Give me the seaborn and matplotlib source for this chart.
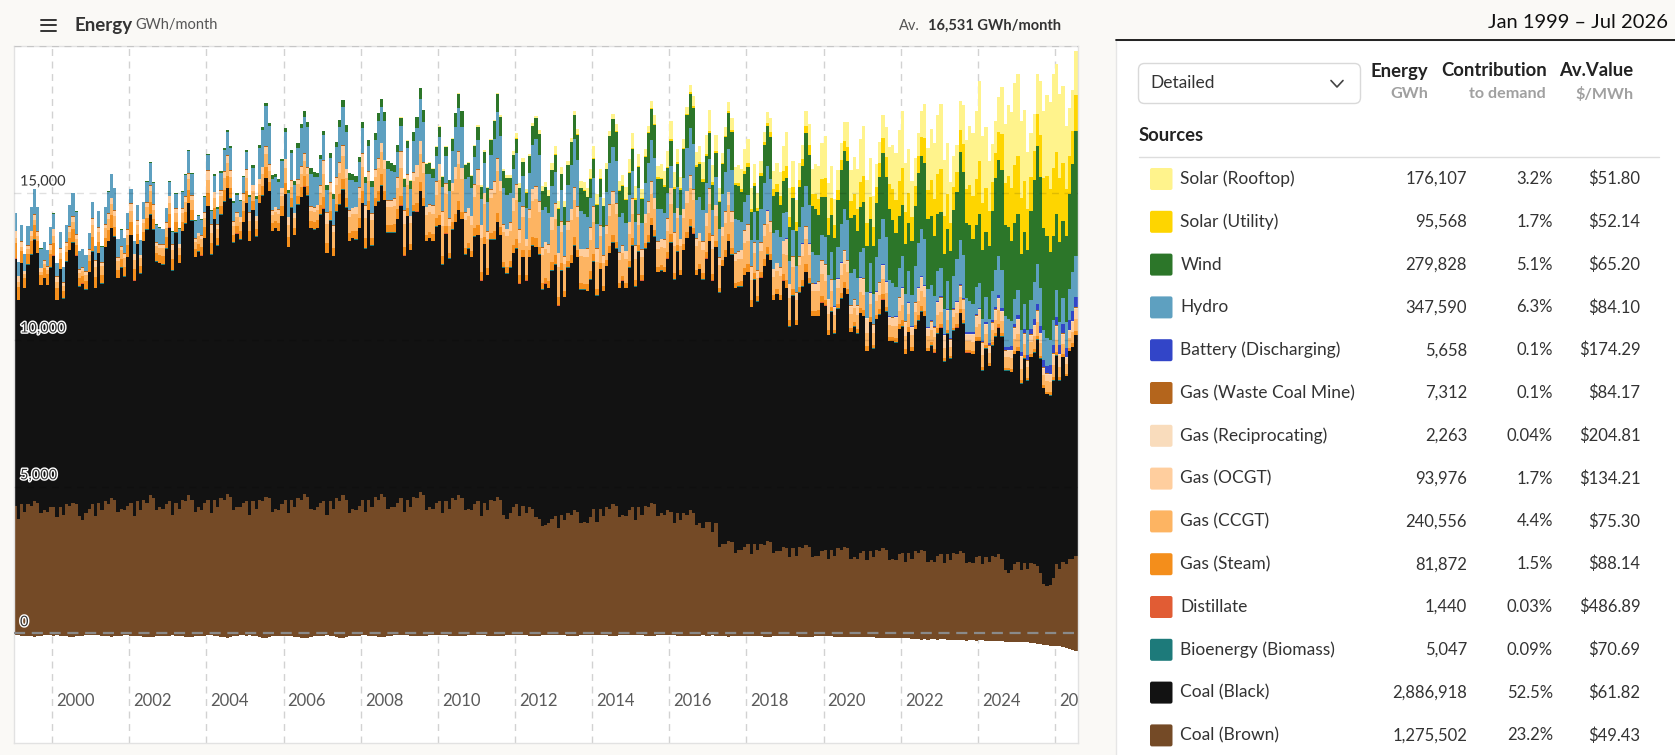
import matplotlib
matplotlib.use("Agg")
import matplotlib.pyplot as plt
import matplotlib.patheffects as pe
import matplotlib.transforms as mtransforms
import numpy as np
import pandas as pd
import seaborn as sns
from matplotlib.lines import Line2D
from matplotlib.patches import FancyBboxPatch, Rectangle

# --- Monthly energy, GWh (Jan 1999 - Jul 2026) ---

coal_brown = [
    4350, 3900, 4400, 4150, 4400, 4350, 4500, 4450, 4100, 4200, 4150, 4300,  # 1999
    4300, 3950, 4300, 4050, 4400, 4350, 4450, 4400, 4000, 3850, 4100, 4250,  # 2000
    4400, 4000, 4450, 4200, 4500, 4400, 4600, 4550, 4150, 4250, 4200, 4350,  # 2001
    4450, 4000, 4500, 4200, 4550, 4450, 4700, 4600, 4200, 4300, 4250, 4400,  # 2002
    4500, 4050, 4450, 4250, 4550, 4500, 4700, 4550, 4150, 4300, 4200, 4450,  # 2003
    4550, 4100, 4550, 4300, 4600, 4550, 4750, 4650, 4200, 4300, 4300, 4450,  # 2004
    4500, 4050, 4500, 4250, 4550, 4500, 4650, 4600, 4150, 4250, 4200, 4400,  # 2005
    4550, 4100, 4550, 4300, 4600, 4550, 4750, 4650, 4250, 4200, 4300, 4450,  # 2006
    4500, 4050, 4500, 4250, 4600, 4500, 4700, 4550, 4100, 4250, 4200, 4350,  # 2007
    4550, 4150, 4550, 4300, 4650, 4550, 4750, 4650, 4250, 4300, 4300, 4450,  # 2008
    4600, 4150, 4550, 4300, 4650, 4600, 4800, 4700, 4200, 4300, 4250, 4450,  # 2009
    4500, 4100, 4500, 4250, 4600, 4550, 4700, 4600, 4200, 4250, 4200, 4400,  # 2010
    4500, 4000, 4450, 4200, 4550, 4500, 4650, 4550, 4050, 3900, 4100, 4300,  # 2011
    4400, 4000, 4350, 4100, 4300, 4250, 3950, 3900, 3650, 3700, 3750, 3900,  # 2012
    4000, 3600, 4050, 3850, 4100, 4050, 4200, 4150, 3750, 3800, 3750, 3950,  # 2013
    4250, 3800, 4250, 4000, 4300, 4250, 4400, 4350, 3950, 4050, 4000, 4200,  # 2014
    4300, 3850, 4300, 4050, 4350, 4300, 4450, 4400, 4000, 4100, 4050, 4200,  # 2015
    4150, 3750, 4100, 3850, 4100, 4050, 4200, 4100, 3700, 3750, 3600, 3800,  # 2016
    3800, 3450, 3750, 2950, 3050, 3050, 3150, 3100, 2750, 2850, 2850, 2950,  # 2017
    3050, 2700, 3050, 2850, 3050, 3000, 3150, 3100, 2750, 2800, 2800, 2950,  # 2018
    2900, 2600, 2900, 2650, 2950, 2900, 3000, 2950, 2600, 2650, 2650, 2800,  # 2019
    2850, 2550, 2850, 2650, 2900, 2850, 2950, 2900, 2550, 2600, 2550, 2750,  # 2020
    2800, 2500, 2800, 2600, 2850, 2800, 2900, 2850, 2500, 2550, 2500, 2700,  # 2021
    2750, 2450, 2750, 2550, 2800, 2750, 2850, 2800, 2450, 2500, 2450, 2650,  # 2022
    2700, 2400, 2700, 2500, 2750, 2700, 2800, 2750, 2400, 2450, 2400, 2600,  # 2023
    2650, 2350, 2600, 2450, 2650, 2600, 2700, 2550, 2150, 2050, 2150, 2350,  # 2024
    2450, 2150, 2400, 2200, 2400, 2350, 2300, 2050, 1700, 1600, 1650, 1900,  # 2025
    2350, 2200, 2450, 2350, 2550, 2550, 2650,                                # 2026
]

coal_black = [
    8400, 7450, 8200, 7600, 8150, 8550, 8900, 8500, 7750, 7900, 7700, 8150,
    8550, 7400, 8100, 7350, 8250, 8700, 8850, 8450, 7800, 8050, 7600, 8050,
    8600, 7750, 8500, 7700, 8650, 8950, 9200, 8950, 7950, 8200, 7950, 8450,
    9100, 8000, 8750, 8050, 8800, 9300, 9550, 9150, 8450, 8300, 8300, 8700,
    9300, 8300, 9200, 8350, 9150, 9450, 9950, 9500, 8650, 8700, 8650, 9000,
    10000, 8800, 9550, 8900, 9650, 10150, 10400, 10150, 9100, 9300, 9100, 9550,
    10150, 9300, 9900, 9250, 10100, 10400, 10850, 10450, 9550, 9550, 9500, 9800,
    10400, 9050, 9950, 9250, 10000, 10300, 10450, 10250, 9550, 9550, 9500, 9800,
    9950, 8900, 9550, 8600, 9750, 10100, 10400, 9950, 9250, 9200, 9200, 9450,
    10100, 8950, 9850, 8900, 9900, 10150, 10500, 10100, 9400, 9350, 9350, 9650,
    9950, 8700, 9650, 8750, 9700, 9750, 10250, 9850, 9150, 9150, 9100, 9400,
    9400, 8450, 9100, 8500, 9150, 9450, 9700, 9500, 8700, 8850, 8600, 9100,
    9050, 8000, 8800, 8000, 8850, 8900, 9350, 9000, 8400, 8350, 8350, 8650,
    8700, 7900, 8450, 7900, 8500, 8950, 9200, 9000, 8050, 8200, 8000, 8450,
    8550, 7550, 8300, 7600, 8350, 8550, 9000, 8650, 7950, 7900, 7900, 8100,
    8400, 7700, 8150, 7650, 8200, 8700, 8900, 8750, 7800, 7950, 7750, 8250,
    8900, 7950, 8700, 7950, 8750, 9000, 9450, 9100, 8300, 8250, 8250, 8550,
    9150, 8300, 8900, 8350, 8950, 9400, 9650, 9500, 8500, 8650, 8450, 8950,
    9550, 8550, 9400, 8650, 9450, 9750, 10200, 9800, 9000, 8950, 8950, 9250,
    9250, 8400, 9000, 8450, 9050, 9500, 9750, 9600, 8600, 8750, 8550, 9050,
    8850, 7850, 8600, 7850, 8650, 8900, 9300, 8950, 8200, 8150, 8150, 8450,
    8300, 7600, 8100, 7550, 8150, 8550, 8800, 8650, 7700, 7850, 7650, 8150,
    8000, 7100, 7800, 7100, 7850, 8050, 8450, 8100, 7450, 7400, 7400, 7650,
    7700, 7050, 7500, 7050, 7550, 7900, 8100, 8000, 7150, 7300, 7100, 7550,
    7700, 6850, 7500, 6850, 7550, 7700, 8100, 7800, 7150, 7100, 7100, 7350,
    7300, 6600, 7100, 6650, 7150, 7500, 7700, 7550, 6800, 6900, 6750, 7150,
    7150, 6350, 6950, 6400, 7000, 7200, 7700, 7300, 6650, 6550, 6450, 6700,
    7100, 6400, 6950, 6400, 7050, 7200, 7500,
]

biomass = [
    15, 14, 16, 15, 16, 15, 16, 16, 15, 15, 14, 15,
    15, 13, 15, 15, 16, 16, 17, 16, 15, 14, 14, 15,
    14, 14, 16, 15, 15, 16, 16, 15, 15, 15, 14, 14,
    15, 13, 15, 16, 16, 15, 17, 16, 14, 15, 15, 15,
    16, 14, 15, 15, 16, 16, 16, 16, 15, 15, 14, 15,
    15, 14, 16, 15, 16, 15, 16, 17, 15, 14, 14, 15,
    15, 13, 16, 15, 15, 16, 17, 16, 15, 15, 14, 14,
    14, 14, 15, 15, 16, 16, 16, 15, 15, 15, 15, 15,
    15, 14, 16, 14, 16, 15, 17, 16, 15, 14, 14, 15,
    16, 14, 15, 15, 16, 16, 16, 16, 14, 15, 14, 15,
    15, 13, 16, 15, 16, 15, 16, 16, 15, 15, 15, 14,
    15, 14, 15, 16, 15, 16, 17, 16, 15, 14, 14, 15,
    14, 14, 16, 15, 16, 15, 16, 15, 15, 15, 14, 15,
    15, 13, 15, 15, 16, 16, 16, 16, 15, 14, 15, 15,
    16, 14, 16, 15, 15, 16, 17, 16, 14, 15, 14, 15,
    15, 14, 15, 15, 16, 15, 16, 16, 15, 15, 14, 14,
    15, 13, 16, 16, 16, 16, 16, 15, 15, 14, 15, 15,
    14, 14, 15, 15, 16, 15, 17, 16, 15, 15, 14, 15,
    15, 14, 16, 15, 15, 16, 16, 16, 15, 15, 14, 15,
    16, 13, 15, 15, 16, 16, 16, 16, 14, 14, 15, 15,
    15, 14, 16, 14, 16, 15, 17, 15, 15, 15, 14, 15,
    15, 14, 15, 15, 16, 16, 16, 16, 15, 15, 14, 14,
    14, 13, 16, 15, 15, 15, 16, 16, 15, 14, 15, 15,
    15, 14, 15, 16, 16, 16, 17, 16, 15, 15, 14, 15,
    15, 14, 16, 15, 16, 15, 16, 15, 14, 15, 14, 15,
    16, 13, 15, 15, 15, 16, 16, 16, 15, 15, 15, 15,
    15, 14, 16, 15, 16, 16, 17, 16, 15, 14, 14, 15,
    15, 14, 16, 15, 16, 16, 16,
]

distillate = [
    6, 5, 4, 3, 3, 4, 5, 4, 3, 3, 3, 5,
    5, 5, 4, 3, 3, 4, 5, 4, 3, 3, 4, 5,
    6, 4, 4, 3, 3, 4, 4, 4, 3, 3, 3, 5,
    5, 5, 4, 3, 4, 4, 5, 4, 3, 3, 3, 4,
    6, 5, 4, 3, 3, 4, 5, 4, 3, 3, 4, 5,
    5, 5, 4, 3, 3, 4, 5, 3, 3, 3, 3, 5,
    6, 5, 4, 3, 3, 4, 4, 4, 3, 3, 3, 5,
    5, 4, 4, 3, 3, 4, 5, 4, 3, 3, 4, 5,
    6, 5, 4, 3, 4, 4, 5, 4, 3, 3, 3, 5,
    5, 5, 4, 3, 3, 4, 5, 4, 3, 3, 3, 4,
    6, 5, 4, 3, 3, 4, 5, 4, 3, 3, 4, 5,
    5, 5, 4, 3, 3, 4, 4, 4, 3, 3, 3, 5,
    6, 4, 4, 3, 3, 4, 5, 4, 3, 3, 3, 5,
    5, 5, 4, 3, 4, 4, 5, 4, 3, 3, 4, 5,
    6, 5, 4, 3, 3, 4, 5, 3, 3, 3, 3, 5,
    5, 5, 4, 3, 3, 4, 5, 4, 3, 3, 3, 4,
    7, 6, 4, 3, 3, 5, 5, 4, 3, 3, 4, 6,
    6, 5, 4, 3, 3, 4, 5, 4, 3, 3, 3, 5,
    5, 5, 4, 3, 3, 4, 5, 4, 3, 3, 3, 5,
    6, 5, 4, 3, 4, 4, 5, 4, 3, 3, 4, 5,
    5, 4, 4, 3, 3, 4, 5, 4, 3, 3, 3, 5,
    6, 5, 4, 3, 3, 4, 4, 4, 3, 3, 3, 5,
    5, 5, 4, 3, 3, 5, 6, 4, 3, 3, 3, 4,
    6, 5, 4, 3, 3, 4, 5, 4, 3, 3, 4, 5,
    5, 5, 4, 3, 3, 4, 5, 4, 3, 3, 3, 5,
    6, 5, 4, 3, 3, 4, 5, 4, 3, 3, 3, 5,
    5, 5, 4, 3, 3, 4, 5, 4, 3, 3, 4, 5,
    6, 5, 4, 3, 3, 4, 5,
]

gas_steam = [
    520, 440, 400, 320, 360, 440, 480, 400, 320, 320, 360, 440,
    440, 390, 320, 240, 310, 390, 440, 350, 270, 250, 290, 370,
    470, 370, 350, 270, 290, 370, 410, 330, 250, 270, 310, 390,
    450, 390, 330, 250, 310, 390, 430, 340, 270, 260, 290, 370,
    460, 370, 340, 270, 300, 380, 410, 350, 260, 250, 300, 380,
    440, 380, 350, 260, 290, 370, 420, 340, 250, 260, 290, 360,
    400, 330, 300, 240, 270, 330, 360, 300, 240, 240, 270, 330,
    380, 340, 290, 250, 280, 320, 370, 310, 230, 250, 260, 320,
    400, 320, 310, 240, 260, 340, 350, 290, 250, 230, 280, 340,
    390, 330, 300, 230, 270, 330, 360, 300, 240, 240, 270, 330,
    325, 275, 250, 200, 225, 275, 300, 250, 200, 200, 225, 275,
    330, 270, 260, 190, 230, 270, 310, 240, 210, 190, 220, 280,
    320, 280, 240, 210, 220, 280, 290, 260, 190, 210, 230, 270,
    325, 275, 250, 200, 225, 275, 300, 250, 200, 200, 225, 275,
    310, 270, 250, 190, 220, 270, 290, 240, 200, 190, 220, 260,
    260, 220, 200, 160, 180, 220, 240, 200, 160, 160, 180, 220,
    250, 230, 190, 170, 170, 230, 230, 210, 150, 170, 170, 230,
    270, 210, 210, 150, 190, 210, 250, 190, 170, 150, 190, 210,
    260, 220, 200, 160, 180, 220, 240, 200, 160, 160, 180, 220,
    250, 220, 190, 160, 190, 230, 230, 200, 150, 160, 170, 210,
    260, 210, 200, 150, 170, 220, 250, 190, 160, 150, 180, 220,
    195, 165, 150, 120, 135, 165, 180, 150, 120, 120, 135, 165,
    190, 170, 140, 120, 140, 160, 190, 140, 120, 110, 140, 160,
    200, 160, 150, 130, 130, 170, 180, 160, 110, 120, 130, 170,
    130, 110, 100, 80, 90, 110, 120, 100, 80, 80, 90, 110,
    120, 110, 90, 80, 100, 110, 130, 100, 70, 80, 90, 100,
    130, 100, 100, 80, 90, 120, 120, 90, 80, 70, 90, 110,
    120, 110, 100, 80, 90, 110, 120,
]

gas_ccgt = [
    170, 150, 150, 135, 150, 165, 175, 160, 135, 135, 135, 150,
    230, 200, 200, 180, 200, 220, 230, 210, 180, 180, 180, 200,
    400, 350, 350, 315, 350, 385, 400, 370, 315, 315, 315, 350,
    370, 300, 300, 255, 300, 345, 370, 320, 255, 255, 255, 300,
    375, 300, 300, 250, 300, 350, 375, 325, 250, 250, 250, 300,
    430, 350, 350, 295, 350, 405, 430, 380, 295, 295, 295, 350,
    420, 360, 340, 300, 360, 400, 440, 370, 290, 300, 290, 360,
    490, 400, 400, 340, 400, 460, 490, 430, 340, 340, 340, 400,
    770, 650, 650, 570, 650, 730, 770, 690, 570, 570, 570, 650,
    830, 700, 700, 615, 700, 785, 750, 740, 615, 615, 615, 700,
    965, 800, 800, 690, 800, 910, 965, 855, 690, 690, 690, 800,
    1200, 1050, 1080, 915, 1050, 1185, 1250, 1120, 950, 915, 880, 1050,
    1370, 1150, 1120, 1005, 1180, 1295, 1420, 1220, 1005, 1040, 1005, 1150,
    1310, 1100, 1100, 960, 1100, 1240, 1310, 1170, 960, 960, 960, 1100,
    1240, 1050, 1050, 925, 1050, 1175, 1240, 1110, 925, 925, 925, 1050,
    1065, 900, 900, 790, 900, 1010, 1065, 955, 790, 790, 790, 900,
    805, 700, 700, 630, 700, 770, 805, 735, 630, 630, 630, 700,
    1035, 900, 900, 810, 900, 990, 1035, 945, 810, 810, 810, 900,
    980, 850, 850, 765, 850, 935, 980, 890, 765, 765, 765, 850,
    805, 700, 700, 630, 700, 770, 805, 735, 630, 630, 630, 700,
    860, 750, 750, 675, 750, 825, 860, 790, 675, 675, 675, 750,
    630, 550, 550, 495, 550, 605, 630, 580, 495, 495, 495, 550,
    520, 450, 450, 405, 450, 495, 520, 470, 405, 405, 405, 450,
    520, 450, 450, 405, 450, 495, 520, 470, 405, 405, 405, 450,
    400, 350, 350, 315, 350, 385, 400, 370, 315, 315, 315, 350,
    460, 400, 400, 360, 400, 440, 460, 420, 360, 360, 360, 400,
    460, 400, 400, 360, 400, 440, 460, 420, 360, 360, 360, 400,
    400, 350, 350, 315, 350, 385, 400,
]

gas_ocgt = [
    225, 195, 150, 105, 120, 165, 180, 150, 105, 105, 120, 180,
    220, 190, 150, 110, 120, 170, 185, 150, 100, 110, 125, 175,
    230, 200, 145, 105, 115, 160, 180, 155, 105, 100, 120, 185,
    225, 195, 155, 100, 120, 165, 175, 150, 110, 105, 115, 180,
    220, 195, 150, 105, 125, 165, 185, 145, 105, 105, 120, 180,
    300, 260, 200, 140, 160, 220, 240, 200, 140, 140, 160, 240,
    295, 265, 195, 140, 165, 215, 245, 200, 135, 145, 155, 240,
    305, 255, 205, 140, 155, 225, 235, 200, 145, 135, 160, 245,
    450, 390, 300, 210, 240, 330, 360, 300, 210, 210, 240, 360,
    440, 400, 300, 215, 235, 335, 300, 300, 210, 215, 240, 355,
    525, 455, 350, 245, 280, 385, 420, 350, 245, 245, 280, 420,
    520, 460, 345, 250, 275, 390, 415, 350, 240, 250, 285, 415,
    530, 450, 355, 240, 285, 380, 425, 345, 250, 240, 275, 425,
    525, 455, 350, 245, 280, 385, 420, 350, 245, 245, 280, 420,
    515, 460, 350, 250, 280, 380, 425, 355, 240, 245, 285, 420,
    525, 450, 355, 245, 275, 390, 420, 350, 250, 240, 280, 415,
    530, 455, 345, 240, 280, 385, 415, 350, 245, 250, 280, 425,
    525, 460, 350, 245, 285, 385, 420, 345, 245, 245, 275, 420,
    520, 455, 355, 250, 280, 380, 425, 350, 240, 245, 280, 420,
    525, 450, 350, 245, 280, 390, 420, 355, 245, 240, 285, 415,
    530, 455, 345, 245, 275, 385, 415, 350, 250, 245, 280, 425,
    525, 460, 350, 240, 280, 385, 420, 350, 245, 250, 280, 420,
    520, 455, 355, 245, 285, 380, 425, 345, 245, 245, 275, 420,
    525, 450, 350, 250, 280, 385, 420, 350, 240, 245, 280, 415,
    450, 390, 300, 210, 240, 330, 360, 300, 210, 210, 240, 360,
    445, 395, 300, 215, 240, 325, 365, 300, 205, 210, 245, 355,
    450, 390, 305, 210, 235, 330, 360, 305, 210, 215, 240, 360,
    450, 390, 300, 210, 240, 330, 360,
]

gas_recip = [  # from Nov 2019
    20, 25,
    35, 30, 28, 25, 26, 30, 32, 28, 25, 25, 27, 32,
    34, 31, 27, 25, 27, 29, 33, 28, 24, 26, 27, 31,
    35, 30, 29, 24, 26, 30, 32, 29, 25, 25, 26, 32,
    36, 30, 28, 26, 25, 31, 31, 28, 25, 24, 27, 33,
    34, 31, 28, 25, 26, 30, 33, 27, 26, 25, 28, 32,
    35, 29, 27, 25, 27, 30, 32, 28, 25, 26, 27, 31,
    35, 30, 28, 25, 26, 30, 32,
]

gas_wcmg = [
    26, 23, 26, 25, 26, 25, 26, 26, 25, 26, 25, 26,
    25, 23, 26, 25, 27, 25, 26, 25, 25, 26, 24, 26,
    26, 24, 25, 25, 26, 26, 26, 26, 24, 26, 25, 25,
    26, 23, 26, 24, 26, 25, 27, 26, 25, 25, 25, 26,
    25, 23, 26, 25, 26, 25, 26, 26, 25, 26, 25, 26,
    26, 24, 26, 25, 25, 26, 26, 25, 25, 26, 24, 26,
    26, 23, 25, 25, 26, 25, 27, 26, 25, 25, 25, 26,
    25, 23, 26, 25, 26, 26, 26, 26, 24, 26, 25, 25,
    26, 24, 26, 24, 26, 25, 26, 26, 25, 25, 25, 26,
    26, 23, 26, 25, 27, 25, 26, 25, 25, 26, 24, 26,
    25, 23, 25, 25, 26, 26, 26, 26, 25, 26, 25, 26,
    26, 24, 26, 25, 26, 25, 27, 26, 24, 25, 25, 25,
    22, 20, 22, 22, 23, 22, 23, 22, 22, 22, 21, 22,
    22, 20, 22, 21, 23, 22, 23, 22, 21, 22, 21, 22,
    23, 20, 22, 22, 22, 22, 23, 23, 22, 22, 21, 22,
    22, 20, 21, 22, 23, 22, 23, 22, 22, 21, 21, 22,
    22, 21, 22, 22, 23, 22, 22, 22, 22, 22, 21, 23,
    22, 20, 22, 21, 23, 23, 23, 22, 21, 22, 21, 22,
    23, 20, 22, 22, 22, 22, 23, 22, 22, 22, 22, 22,
    22, 20, 22, 22, 23, 22, 23, 23, 22, 21, 21, 22,
    22, 21, 21, 22, 23, 22, 23, 22, 22, 22, 21, 22,
    22, 20, 22, 22, 22, 22, 23, 22, 21, 22, 21, 22,
    15, 14, 15, 15, 16, 15, 16, 15, 15, 15, 14, 15,
    15, 14, 15, 14, 16, 15, 16, 16, 15, 15, 14, 15,
    16, 14, 15, 15, 15, 15, 16, 15, 14, 15, 15, 15,
    15, 13, 15, 15, 16, 16, 16, 15, 15, 15, 14, 15,
    15, 14, 16, 15, 16, 15, 15, 15, 15, 14, 14, 15,
    15, 14, 15, 15, 16, 15, 16,
]

battery = [  # from Dec 2017
    3,
    4, 4, 5, 5, 5, 5, 6, 5, 5, 5, 6, 6,
    7, 7, 8, 8, 8, 8, 9, 8, 8, 8, 9, 9,
    11, 10, 12, 12, 12, 12, 13, 12, 12, 12, 13, 13,
    16, 15, 17, 17, 18, 18, 19, 19, 19, 19, 20, 21,
    27, 25, 28, 28, 30, 30, 32, 31, 31, 31, 33, 34,
    40, 38, 42, 42, 45, 45, 47, 47, 47, 48, 50, 52,
    50, 55, 60, 60, 70, 80, 90, 90, 100, 110, 120, 130,
    130, 140, 150, 160, 180, 200, 220, 230, 240, 260, 280, 300,
    300, 300, 320, 320, 340, 350, 360,
]

hydro = [
    600, 480, 560, 570, 650, 800, 860, 800, 650, 610, 560, 580,
    510, 450, 540, 500, 580, 710, 780, 760, 630, 600, 540, 530,
    530, 470, 530, 540, 570, 730, 800, 750, 620, 570, 530, 550,
    490, 430, 510, 490, 550, 690, 750, 730, 590, 550, 510, 490,
    470, 410, 490, 500, 570, 710, 770, 710, 600, 570, 530, 510,
    510, 450, 530, 520, 580, 730, 790, 750, 620, 590, 530, 530,
    580, 500, 580, 570, 1050, 1250, 1350, 1300, 1080, 1000, 920, 900,
    920, 800, 920, 930, 1050, 1300, 1250, 1350, 1100, 1020, 920, 900,
    840, 740, 840, 880, 1000, 1200, 1300, 1250, 1000, 930, 840, 840,
    860, 760, 860, 880, 1000, 1250, 1200, 1300, 1050, 980, 890, 860,
    880, 790, 880, 900, 1050, 1250, 1400, 1350, 1100, 1020, 910, 880,
    920, 810, 920, 920, 1080, 1350, 1450, 1400, 1130, 1060, 940, 920,
    1000, 860, 1000, 1000, 1170, 1450, 1580, 1530, 1220, 1140, 1000, 980,
    1050, 910, 1050, 1040, 1220, 1480, 1620, 1570, 1260, 1180, 1050, 1040,
    1050, 920, 1050, 1050, 1220, 1480, 1620, 1580, 1270, 1190, 1050, 1000,
    950, 820, 950, 950, 1120, 1400, 1480, 1440, 1180, 1090, 950, 910,
    900, 800, 900, 900, 1050, 1300, 1400, 1350, 1100, 1000, 900, 850,
    750, 650, 700, 800, 1050, 1450, 1600, 1550, 1300, 1200, 1050, 1000,
    1000, 850, 950, 950, 1100, 1350, 1450, 1400, 1150, 1050, 950, 950,
    1000, 900, 1000, 1000, 1150, 1400, 1500, 1450, 1200, 1100, 1000, 950,
    900, 780, 900, 880, 1000, 1250, 1350, 1300, 1050, 950, 880, 850,
    900, 800, 900, 900, 1050, 1300, 1400, 1350, 1100, 1000, 900, 880,
    1000, 880, 1000, 1000, 1150, 1450, 1550, 1500, 1250, 1150, 1000, 980,
    1050, 900, 1050, 1050, 1200, 1500, 1600, 1550, 1300, 1200, 1050, 1000,
    950, 850, 950, 950, 1100, 1400, 1500, 1450, 1150, 1050, 950, 900,
    850, 750, 850, 850, 1000, 1250, 1350, 1300, 1050, 950, 850, 820,
    850, 750, 850, 850, 1000, 1250, 1350, 1300, 1050, 950, 850, 820,
    900, 780, 880, 880, 1050, 1300, 1400,
]

wind = [
    3, 3, 3, 3, 4, 4, 4, 4, 4, 4, 3, 3,
    5, 5, 5, 5, 6, 6, 7, 7, 6, 6, 6, 5,
    10, 9, 9, 10, 12, 13, 14, 14, 13, 13, 12, 11,
    15, 14, 14, 15, 18, 20, 22, 22, 20, 20, 18, 16,
    26, 24, 24, 26, 30, 33, 36, 36, 34, 33, 30, 27,
    50, 45, 52, 48, 62, 70, 68, 75, 66, 70, 58, 55,
    80, 85, 75, 90, 100, 115, 125, 115, 120, 105, 100, 88,
    120, 125, 110, 135, 155, 160, 190, 175, 180, 160, 145, 140,
    165, 160, 150, 180, 195, 230, 245, 230, 240, 215, 205, 175,
    205, 210, 190, 220, 245, 285, 295, 310, 280, 280, 240, 230,
    270, 275, 250, 290, 320, 375, 390, 405, 370, 370, 320, 305,
    340, 350, 320, 365, 410, 475, 495, 515, 470, 470, 410, 390,
    430, 420, 400, 460, 505, 590, 610, 640, 580, 585, 505, 480,
    490, 480, 455, 520, 575, 665, 695, 725, 660, 665, 575, 545,
    580, 570, 540, 610, 680, 790, 825, 860, 780, 790, 680, 650,
    670, 660, 625, 705, 785, 915, 950, 995, 905, 910, 785, 750,
    755, 740, 700, 795, 885, 1025, 1070, 1120, 1020, 1025, 885, 840,
    830, 815, 770, 870, 970, 1125, 1180, 1230, 1120, 1125, 970, 925,
    870, 860, 810, 915, 1020, 1180, 1240, 1290, 1175, 1180, 1020, 970,
    955, 940, 890, 1000, 1115, 1295, 1355, 1415, 1290, 1295, 1115, 1065,
    1160, 1140, 1080, 1220, 1360, 1400, 1800, 1720, 1565, 1575, 1360, 1290,
    1370, 1345, 1275, 1440, 1600, 1855, 1945, 2030, 1845, 1860, 1600, 1525,
    1575, 1550, 1470, 1660, 1845, 2140, 2240, 2050, 2400, 2140, 1845, 1755,
    1740, 1715, 1625, 1835, 2040, 2365, 2480, 2585, 2350, 2370, 2040, 1940,
    1905, 1880, 1780, 2010, 2235, 2300, 3000, 2830, 2575, 2595, 2235, 2125,
    2350, 2320, 2210, 2470, 2725, 3130, 3265, 3395, 3105, 3130, 2725, 2600,
    2600, 2570, 2450, 2735, 3020, 3470, 4000, 3770, 3450, 3470, 3020, 2880,
    2600, 2750, 2620, 2930, 3240, 3700, 4250,
]

solar_utility = [  # from Jan 2012
    13, 12, 11, 9, 7, 6, 7, 9, 10, 12, 13, 14,
    20, 17, 16, 13, 11, 9, 10, 13, 15, 18, 19, 20,
    33, 29, 26, 21, 18, 15, 16, 21, 25, 30, 31, 34,
    52, 46, 42, 34, 28, 24, 26, 34, 40, 48, 50, 54,
    78, 69, 63, 51, 42, 36, 39, 51, 60, 72, 75, 81,
    91, 81, 74, 60, 49, 42, 46, 60, 70, 84, 88, 95,
    120, 110, 110, 100, 90, 90, 110, 160, 210, 270, 300, 340,
    400, 360, 360, 300, 250, 220, 250, 340, 420, 520, 560, 620,
    660, 580, 560, 440, 370, 320, 360, 480, 590, 720, 770, 840,
    900, 800, 780, 640, 540, 470, 520, 700, 870, 1050, 1100, 1200,
    1250, 1100, 1020, 830, 690, 590, 650, 850, 1000, 1200, 1250, 1350,
    1450, 1280, 1180, 950, 780, 670, 740, 970, 1150, 1380, 1440, 1560,
    1800, 1600, 1480, 1200, 980, 850, 930, 1230, 1450, 1740, 1820, 1960,
    1950, 1900, 1750, 1400, 1150, 990, 1090, 1430, 1700, 2040, 2120, 2300,
    2100, 2150, 1980, 1600, 1300, 1120, 1230,
]

solar_rooftop = [  # from Jan 2008
    5, 5, 5, 4, 3, 3, 3, 4, 5, 6, 7, 8,
    11, 10, 10, 9, 7, 6, 7, 9, 12, 15, 17, 19,
    28, 25, 24, 20, 16, 14, 16, 22, 28, 35, 40, 45,
    75, 68, 67, 57, 46, 41, 47, 66, 86, 107, 121, 135,
    170, 150, 140, 115, 90, 78, 86, 117, 148, 180, 198, 215,
    270, 235, 220, 180, 140, 120, 130, 180, 230, 280, 300, 325,
    400, 340, 315, 255, 195, 165, 180, 240, 300, 360, 390, 420,
    510, 435, 400, 325, 245, 210, 230, 305, 380, 455, 495, 530,
    610, 520, 470, 380, 290, 250, 270, 360, 450, 540, 585, 630,
    700, 600, 545, 440, 340, 285, 310, 415, 520, 625, 675, 730,
    840, 710, 650, 525, 400, 340, 370, 495, 620, 745, 805, 870,
    1160, 990, 900, 730, 560, 470, 515, 690, 860, 1030, 1120, 1200,
    1420, 1210, 1100, 890, 680, 580, 630, 840, 1050, 1260, 1365, 1470,
    1690, 1440, 1310, 1060, 810, 690, 750, 1000, 1250, 1500, 1625, 1750,
    1960, 1670, 1520, 1230, 940, 800, 870, 1160, 1450, 1740, 1885, 2030,
    2230, 1900, 1730, 1400, 1070, 910, 990, 1320, 1650, 1980, 2145, 2310,
    2700, 2300, 2100, 1700, 1300, 1100, 1200, 1600, 2000, 2400, 2600, 2800,
    2800, 2650, 2420, 1950, 1500, 1270, 1380, 1840, 2300, 2760, 2990, 3220,
    3000, 2880, 2620, 2120, 1620, 1380, 1500,
]

# pumps / charging below zero, GWh
loads = [
    -60, -50, -70, -80, -90, -100, -110, -90, -70, -60, -60, -60,
    -70, -60, -80, -90, -100, -110, -120, -100, -80, -70, -60, -60,
    -60, -50, -60, -70, -90, -100, -110, -100, -80, -70, -60, -60,
    -80, -70, -80, -90, -110, -120, -130, -120, -90, -80, -70, -70,
    -70, -60, -70, -80, -100, -110, -120, -110, -90, -80, -70, -70,
    -60, -60, -70, -90, -110, -130, -140, -120, -90, -70, -60, -60,
    -70, -60, -80, -100, -120, -140, -150, -130, -100, -80, -70, -70,
    -80, -70, -90, -110, -130, -150, -160, -140, -110, -90, -80, -80,
    -70, -60, -80, -100, -120, -140, -150, -130, -100, -80, -70, -70,
    -60, -60, -70, -80, -100, -110, -120, -110, -80, -70, -60, -60,
    -60, -50, -60, -70, -80, -90, -100, -90, -70, -60, -60, -50,
    -50, -50, -60, -70, -80, -90, -100, -90, -70, -60, -50, -50,
    -60, -50, -60, -70, -80, -90, -100, -90, -70, -60, -60, -60,
    -50, -50, -60, -60, -70, -80, -90, -80, -60, -50, -50, -50,
    -50, -40, -50, -60, -70, -80, -80, -70, -60, -50, -50, -50,
    -50, -40, -50, -60, -60, -70, -80, -70, -60, -50, -50, -50,
    -50, -50, -60, -60, -70, -80, -90, -80, -60, -50, -50, -60,
    -60, -60, -70, -80, -90, -100, -100, -90, -80, -70, -60, -70,
    -70, -60, -70, -80, -90, -100, -110, -100, -90, -80, -70, -80,
    -80, -70, -80, -90, -100, -110, -120, -110, -100, -90, -90, -90,
    -90, -80, -90, -100, -110, -120, -130, -120, -110, -100, -100, -100,
    -100, -90, -100, -110, -120, -130, -130, -120, -120, -110, -110, -110,
    -120, -110, -120, -130, -140, -150, -160, -150, -150, -140, -140, -150,
    -160, -150, -170, -180, -190, -200, -210, -200, -210, -200, -200, -210,
    -200, -190, -210, -210, -220, -220, -230, -220, -240, -230, -230, -240,
    -230, -220, -240, -240, -250, -250, -260, -260, -280, -280, -290, -300,
    -290, -280, -300, -300, -320, -330, -350, -360, -380, -390, -410, -430,
    -440, -420, -460, -480, -520, -560, -600,
]

# legend table (top to bottom)
source_names = [
    "Solar (Rooftop)", "Solar (Utility)", "Wind", "Hydro", "Battery (Discharging)",
    "Gas (Waste Coal Mine)", "Gas (Reciprocating)", "Gas (OCGT)", "Gas (CCGT)",
    "Gas (Steam)", "Distillate", "Bioenergy (Biomass)", "Coal (Black)", "Coal (Brown)",
]
source_colors = [
    "#FFF38C", "#FED500", "#2C7629", "#5EA0C0", "#3245C8",
    "#B4651C", "#F9DCBC", "#FFCE9E", "#FDB462",
    "#F48E1B", "#E15C34", "#1D7A7A", "#121212", "#744A26",
]
series_starts = [
    "2008-01", "2012-01", "1999-01", "1999-01", "2017-12",
    "1999-01", "2019-11", "1999-01", "1999-01",
    "1999-01", "1999-01", "1999-01", "1999-01", "1999-01",
]
energy_gwh = [176107, 95568, 279828, 347590, 5658, 7312, 2263, 93976, 240556,
              81872, 1440, 5047, 2886918, 1275502]
contribution_pct = [3.2, 1.7, 5.1, 6.3, 0.1, 0.1, 0.04, 1.7, 4.4, 1.5, 0.03, 0.09, 52.5, 23.2]
av_value = [51.80, 52.14, 65.20, 84.10, 174.29, 84.17, 204.81, 134.21, 75.30,
            88.14, 486.89, 70.69, 61.82, 49.43]

year_labels = list(range(2000, 2027, 2))
y_ticks = [0, 5000, 10000, 15000]

# --- Layout ---
W, H = 1675, 755
BG = "#FAF9F6"
N_MONTHS = 331  # Jan 1999 .. Jul 2026


def month_index(start):
    y, m = map(int, start.split("-"))
    return (y - 1999) * 12 + (m - 1)


series_values = [solar_rooftop, solar_utility, wind, hydro, battery, gas_wcmg, gas_recip,
                 gas_ocgt, gas_ccgt, gas_steam, distillate, biomass, coal_black, coal_brown]

rows = []
for name, values, start in zip(source_names, series_values, series_starts):
    i0 = month_index(start)
    for k, v in enumerate(values):
        rows.append((i0 + k, name, v))
df = pd.DataFrame(rows, columns=["month", "source", "gwh"])

sns.set_style("white")
plt.rcParams["font.family"] = ["Lato", "DejaVu Sans"]

fig = plt.figure(figsize=(W / 100, H / 100), dpi=100, facecolor=BG)
PX = mtransforms.IdentityTransform()


def put(x, y, s, **kw):
    fig.text(x, H - y, s, transform=PX, **kw)


# plot area
ax_l, ax_r, ax_t, ax_b = 13.6, 1077.5, 46, 743
ax = fig.add_axes([ax_l / W, 1 - ax_b / H, (ax_r - ax_l) / W, (ax_b - ax_t) / H])
ax.set_facecolor("white")

# stacked monthly bars (first hue level ends up on top of the stack)
sns.histplot(data=df, x="month", weights="gwh", hue="source", hue_order=source_names,
             palette=dict(zip(source_names, source_colors)), multiple="stack",
             discrete=True, shrink=1, element="bars", fill=True, alpha=1,
             linewidth=0, edgecolor="none", antialiased=False, legend=False,
             ax=ax, zorder=2)
ax.bar(np.arange(len(loads)), loads, width=1.0, color="#744A26", linewidth=0,
       antialiased=False, zorder=2)

ax.set_xlim(-0.5, N_MONTHS - 0.5)
ax.set_ylim(-3728, 20000)
ax.set_xticks([])
ax.set_yticks([])
ax.set_xlabel("")
ax.set_ylabel("")
for sp in ax.spines.values():
    sp.set_color("#E2E2E2")
    sp.set_linewidth(1)

# grid
year_pos = [(y - 1999) * 12 - 0.5 for y in year_labels]
ax.vlines(year_pos, -3728, 20000, colors="#D2D2D2", linewidth=1,
          linestyles=(0, (5, 4)), zorder=1)
for v in [5000, 10000, 15000, 20000]:
    ax.axhline(v, color="black", alpha=0.12, linewidth=1, linestyle=(0, (5, 4)), zorder=3)
ax.axhline(0, color="#8A8A8A", linewidth=1.6, linestyle=(0, (5, 3)), zorder=4)

# year labels inside the plot, clipped at the right edge
off = mtransforms.ScaledTranslation(4 / 100, 0, fig.dpi_scale_trans)
for yr, xp in zip(year_labels, year_pos):
    ax.text(xp, -2298, str(yr), transform=ax.transData + off, ha="left", va="center",
            fontsize=12, color="#5A5A5A", clip_on=True, zorder=5)

# value labels
ytr = mtransforms.blended_transform_factory(ax.transAxes, ax.transData)
for v in y_ticks:
    ax.text(6.4 / (ax_r - ax_l), v + 385, f"{v:,}", transform=ytr, ha="left", va="center",
            fontsize=10.5, color="#333333", zorder=6,
            path_effects=[pe.withStroke(linewidth=2, foreground="white")])

# --- header ---
for yy in (19.5, 25, 30.5):
    fig.add_artist(Line2D([41, 56], [H - yy, H - yy], transform=PX, color="#333333", lw=1.4))
put(74.5, 25, "Energy", fontsize=13.5, fontweight="bold", color="#333333", va="center")
put(135.5, 25.5, "GWh/month", fontsize=10.5, color="#555555", va="center")
put(920, 25.5, "Av.", fontsize=10.5, color="#555555", va="center", ha="right")
put(1061, 25.5, "16,531 GWh/month", fontsize=10.5, fontweight="bold", color="#333333",
    va="center", ha="right")

# --- right panel ---
fig.add_artist(Rectangle((1116, -2), W - 1116 + 2, H - 40 + 2, transform=PX,
                         facecolor="white", edgecolor="#E6E6E6", lw=1, zorder=0))
fig.add_artist(Line2D([1116, W], [H - 39.5, H - 39.5], transform=PX, color="#111111", lw=1.3))
put(1668, 22.5, "Jan 1999 \u2013 Jul 2026", fontsize=14.5, color="#111111", va="center", ha="right")

fig.add_artist(FancyBboxPatch((1138.5, H - 103.5), 222, 40, transform=PX,
                              boxstyle="round,pad=0,rounding_size=6",
                              facecolor="white", edgecolor="#D9D9D9", lw=1))
put(1150.5, 83, "Detailed", fontsize=12.5, color="#333333", va="center")
fig.add_artist(Line2D([1331, 1337, 1343], [H - 80.5, H - 87, H - 80.5], transform=PX,
                      color="#444444", lw=1.2))

for xr, xs, top, sub in [(1428, 1428, "Energy", "GWh"),
                         (1547.5, 1545.5, "Contribution", "to demand"),
                         (1633.5, 1633.5, "Av.Value", "$/MWh")]:
    put(xr, 71, top, fontsize=13.3, fontweight="bold", color="#222222", va="center", ha="right")
    put(xs, 94.5, sub, fontsize=11.6, fontweight="bold", color="#A0A0A0", va="center", ha="right")

put(1139, 135.5, "Sources", fontsize=13.3, fontweight="bold", color="#222222", va="center")
fig.add_artist(Line2D([1138.5, 1659], [H - 157, H - 157], transform=PX, color="#DDDDDD", lw=1))

for i, (name, col) in enumerate(zip(source_names, source_colors)):
    yc = 179 + 42.8 * i
    fig.add_artist(FancyBboxPatch((1150, H - yc - 11), 22.5, 22, transform=PX,
                                  boxstyle="round,pad=0,rounding_size=2",
                                  facecolor=col, edgecolor="none"))
    put(1180.5, yc, name, fontsize=12.5, color="#333333", va="center")
    put(1467, yc, f"{energy_gwh[i]:,}", fontsize=12, color="#333333", va="center", ha="right")
    put(1553, yc, f"{contribution_pct[i]:g}%", fontsize=12, color="#333333", va="center", ha="right")
    put(1640.5, yc, f"${av_value[i]:.2f}", fontsize=12, color="#333333", va="center", ha="right")

fig.savefig("out.png", dpi=100, facecolor=BG)
